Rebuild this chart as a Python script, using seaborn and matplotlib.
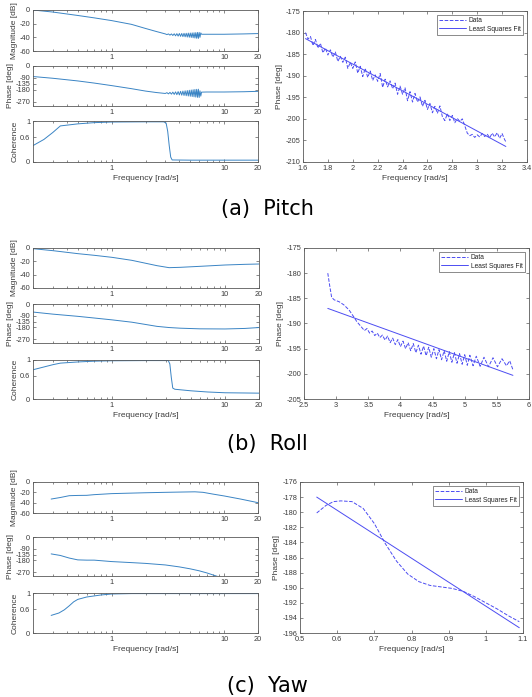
import numpy as np
import pandas as pd
import matplotlib
matplotlib.use("Agg")
import matplotlib.pyplot as plt
import seaborn as sns
from matplotlib.ticker import LogLocator, NullFormatter, FixedLocator, FixedFormatter

sns.set_style("ticks")
plt.rcParams['font.family'] = ['Liberation Sans', 'DejaVu Sans']

# ---------------- Pitch ----------------
pitch_mag_f = [0.2, 0.3, 0.5, 0.7, 1.0, 1.5, 2.0, 2.5, 3.0,
               3.1, 3.2, 3.3, 3.4, 3.5, 3.6, 3.7, 3.8, 3.9, 4.0, 4.1, 4.2, 4.3, 4.4, 4.5,
               4.6, 4.7, 4.8, 4.9, 5.0, 5.1, 5.2, 5.3, 5.4, 5.5, 5.6, 5.7, 5.8, 5.9, 6.0,
               6.1, 6.2, 6.3, 7.0, 10.0, 15.0, 20.0]
pitch_mag = [0.0, -3.0, -8.0, -11.5, -15.5, -21.0, -27.0, -31.5, -35.0,
             -36.0, -35.0, -36.8, -35.0, -37.3, -34.8, -37.8, -34.6, -38.2, -34.4, -38.6, -34.3, -39.0, -34.1, -39.3,
             -34.0, -39.6, -33.8, -39.9, -33.7, -40.2, -33.5, -40.6, -33.3, -41.0, -33.1, -41.4, -32.9, -41.6, -32.8,
             -40.0, -33.5, -35.5, -35.5, -35.5, -35.0, -34.5]
pitch_ph = [-79, -92, -112, -128, -147, -170, -188, -199, -206,
            -200, -209, -198, -211, -196, -213, -194, -215, -192, -217, -190, -219, -188, -221, -186,
            -223, -184, -225, -182, -227, -180, -229, -178, -231, -176, -233, -175, -235, -174, -236,
            -186, -226, -196, -195, -195, -193, -190]
pitch_coh_f = [0.2, 0.25, 0.3, 0.35, 0.5, 0.7, 1.0, 2.0, 2.9, 3.05, 3.15, 3.25, 3.35, 3.45, 5.0, 10.0, 20.0]
pitch_coh = [0.40, 0.55, 0.72, 0.88, 0.93, 0.96, 0.975, 0.98, 0.98, 0.95, 0.75, 0.40, 0.12, 0.05, 0.045, 0.045, 0.045]

pitch_fit_data_f = [1.62, 1.64, 1.66, 1.68, 1.70, 1.72, 1.74, 1.76, 1.78, 1.80, 1.82, 1.84, 1.86, 1.88,
                    1.90, 1.92, 1.94, 1.96, 1.98, 2.00, 2.02, 2.04, 2.06, 2.08, 2.10, 2.12, 2.14, 2.16,
                    2.18, 2.20, 2.22, 2.24, 2.26, 2.28, 2.30, 2.32, 2.34, 2.36, 2.38, 2.40, 2.42, 2.44,
                    2.46, 2.48, 2.50, 2.52, 2.54, 2.56, 2.58, 2.60, 2.62, 2.64, 2.66, 2.68, 2.70, 2.72,
                    2.74, 2.76, 2.78, 2.80, 2.82, 2.84, 2.86, 2.88, 2.90, 2.92, 2.94, 2.96, 2.98, 3.00,
                    3.02, 3.04, 3.06, 3.08, 3.10, 3.12, 3.14, 3.16, 3.18, 3.20, 3.22, 3.23]
pitch_fit_data = [-180.0, -181.5, -180.9, -183.0, -181.6, -183.6, -182.5, -184.7, -183.6, -185.2, -184.0,
                  -185.7, -184.5, -186.7, -185.5, -186.9, -185.7, -188.3, -186.9, -188.3, -186.8, -189.4,
                  -187.8, -190.2, -188.3, -190.4, -188.9, -191.1, -189.8, -191.3, -189.5, -192.7, -190.8,
                  -192.6, -191.2, -193.0, -191.7, -194.3, -192.4, -194.3, -192.8, -195.8, -193.7, -196.1,
                  -194.1, -196.1, -194.9, -197.1, -195.7, -197.8, -196.4, -198.6, -197.1, -198.7, -197.0,
                  -199.5, -200.4, -198.8, -200.4, -199.2, -200.9, -199.9, -200.6, -200.0, -201.6, -203.3,
                  -203.9, -203.6, -204.3, -203.7, -204.2, -203.4, -204.1, -203.5, -204.4, -203.3, -204.2,
                  -203.2, -204.5, -203.4, -204.8, -205.3]
pitch_ls_f = [1.62, 3.23]
pitch_ls = [-181.4, -206.4]

# ---------------- Roll ----------------
roll_f = [0.2, 0.3, 0.5, 0.7, 1.0, 1.5, 2.0, 2.5, 3.2, 4.0, 6.0, 10.0, 15.0, 20.0]
roll_mag = [-1.0, -4.0, -8.5, -11.0, -14.0, -18.5, -23.0, -26.5, -29.5, -29.0, -27.5, -25.5, -24.5, -24.0]
roll_ph = [-62, -78, -95, -108, -122, -140, -158, -172, -181, -186, -191, -192, -188, -181]
roll_coh_f = [0.2, 0.3, 0.35, 0.5, 0.7, 1.0, 2.0, 3.15, 3.25, 3.35, 3.45, 3.6, 5.0, 7.0, 10.0, 20.0]
roll_coh = [0.75, 0.88, 0.92, 0.95, 0.97, 0.98, 0.985, 0.985, 0.9, 0.55, 0.28, 0.25, 0.21, 0.18, 0.16, 0.15]

roll_data_f = [2.87, 2.90, 2.93, 2.97, 3.05, 3.12, 3.20, 3.27, 3.32, 3.36,
               3.40, 3.44, 3.48, 3.52, 3.56, 3.60, 3.64, 3.68, 3.72, 3.76, 3.80, 3.84, 3.88, 3.92,
               3.96, 4.00, 4.04, 4.08, 4.12, 4.16, 4.20, 4.24, 4.28, 4.32, 4.36, 4.40, 4.44, 4.48,
               4.52, 4.56, 4.60, 4.64, 4.68, 4.72, 4.76, 4.80, 4.84, 4.88, 4.92, 4.96, 5.00, 5.04,
               5.08, 5.13, 5.18, 5.24, 5.30, 5.37, 5.44, 5.51, 5.58, 5.65, 5.70, 5.75]
roll_data = [-180.0, -182.5, -184.8, -185.3, -185.7, -186.3, -187.3, -188.6, -189.6, -190.2,
             -190.8, -191.4, -191.0, -191.9, -191.5, -192.4, -191.9, -192.8, -192.3, -193.3, -192.5,
             -193.8, -192.9, -194.2, -193.2, -194.6, -193.5, -195.0, -193.8, -195.4, -194.0, -195.8,
             -194.3, -196.1, -194.5, -196.4, -194.7, -196.7, -195.0, -197.0, -195.2, -197.2, -195.4,
             -197.5, -195.6, -197.7, -195.8, -197.9, -196.0, -198.1, -196.2, -198.3, -196.3, -198.4,
             -196.5, -198.5, -196.7, -198.6, -196.8, -198.6, -197.0, -198.4, -197.4, -199.2]
roll_ls_f = [2.87, 5.75]
roll_ls = [-187.0, -200.3]

# ---------------- Yaw ----------------
yaw_f = [0.29, 0.35, 0.42, 0.5, 0.6, 0.7, 1.0, 1.5, 2.0, 3.0, 4.0, 5.5, 6.5, 8.0, 10.0, 14.0, 20.0]
yaw_mag = [-33.0, -30.0, -26.5, -26.0, -25.8, -24.5, -22.5, -21.5, -20.8, -20.0, -19.5, -19.0, -20.0,
           -23.5, -27.0, -33.0, -40.0]
yaw_ph_f = [0.29, 0.35, 0.42, 0.5, 0.6, 0.7, 1.0, 1.5, 2.0, 3.0, 4.0, 5.0, 6.0, 7.0, 8.5, 10.0, 20.0]
yaw_ph = [-130, -142, -162, -176, -178, -178, -189, -197, -203, -215, -230, -245, -260, -276, -300, -320, -400]
yaw_coh_f = [0.29, 0.34, 0.38, 0.42, 0.46, 0.5, 0.6, 0.8, 1.0, 1.5, 2.0, 20.0]
yaw_coh = [0.44, 0.50, 0.58, 0.68, 0.78, 0.84, 0.90, 0.95, 0.975, 0.985, 0.985, 0.985]

yaw_data_f = [0.545, 0.57, 0.59, 0.61, 0.64, 0.67, 0.70, 0.73, 0.76, 0.79, 0.82, 0.85, 0.88, 0.91,
              0.94, 0.97, 1.00, 1.03, 1.06, 1.09]
yaw_data = [-180.1, -179.1, -178.6, -178.5, -178.6, -179.5, -181.5, -184.2, -186.5, -188.2, -189.2,
            -189.7, -189.9, -190.1, -190.5, -191.2, -192.0, -192.8, -193.7, -194.5]
yaw_ls_f = [0.545, 1.09]
yaw_ls = [-178.0, -195.3]

captions = ["(a)  Pitch", "(b)  Roll", "(c)  Yaw"]

# ---------------- drawing ----------------
W, H = 532, 697
fig = plt.figure(figsize=(W / 100, H / 100), dpi=100)

LEFT_C = '#3a84c4'
RIGHT_C = '#4c4cf2'
SPINE_C = '#5a5a5a'
TICK_C = '#3c3c3c'
TFS = 5.3
LFS = 6


def add_ax(x0, y0, x1, y1):
    return fig.add_axes([x0 / W, 1 - y1 / H, (x1 - x0) / W, (y1 - y0) / H])


def style(ax):
    for s in ax.spines.values():
        s.set_color(SPINE_C)
        s.set_linewidth(0.6)
        s.set_visible(True)
    ax.tick_params(which='both', direction='in', top=True, right=True, colors=SPINE_C,
                   labelcolor=TICK_C, labelsize=TFS, width=0.5, pad=2)
    ax.tick_params(which='major', length=2.5)
    ax.tick_params(which='minor', length=1.5)


def left_panel(ax, f, y, yticks, ylim, ylabel, xlabel=False):
    sns.lineplot(x=f, y=y, ax=ax, color=LEFT_C, linewidth=0.7, sort=False)
    ax.set_xscale('log')
    ax.set_xlim(0.2, 20)
    ax.set_ylim(*ylim)
    ax.set_yticks(yticks)
    ax.set_yticklabels([("%g" % t) for t in yticks])
    ax.xaxis.set_major_locator(FixedLocator([1, 10, 20]))
    ax.xaxis.set_major_formatter(FixedFormatter(["1", "10", "20"]))
    ax.xaxis.set_minor_locator(LogLocator(base=10, subs=np.arange(2, 10)))
    ax.xaxis.set_minor_formatter(NullFormatter())
    ax.set_ylabel(ylabel, fontsize=LFS, color=TICK_C, labelpad=1)
    ax.set_xlabel("Frequency [rad/s]" if xlabel else "", fontsize=LFS, color=TICK_C, labelpad=2)
    style(ax)


def right_panel(ax, df_, dv, lf, lv, xlim, xticks, ylim, yticks):
    sns.lineplot(x=df_, y=dv, ax=ax, color=RIGHT_C, linewidth=0.7, linestyle='--',
                 label='Data', sort=False)
    sns.lineplot(x=lf, y=lv, ax=ax, color=RIGHT_C, linewidth=0.7, label='Least Squares Fit', sort=False)
    ax.set_xlim(*xlim)
    ax.set_ylim(*ylim)
    ax.set_xticks(xticks)
    ax.set_xticklabels([("%g" % t) for t in xticks])
    ax.set_yticks(yticks)
    ax.set_yticklabels([("%g" % t) for t in yticks])
    ax.set_xlabel("Frequency [rad/s]", fontsize=LFS, color=TICK_C, labelpad=2)
    ax.set_ylabel("Phase [deg]", fontsize=LFS, color=TICK_C, labelpad=2)
    style(ax)
    leg = ax.legend(loc='upper right', fontsize=4.8, frameon=True, fancybox=False,
                    handlelength=4.0, borderpad=0.35, labelspacing=0.2, handletextpad=0.4,
                    borderaxespad=0.6)
    leg.get_frame().set_edgecolor('#333333')
    leg.get_frame().set_linewidth(0.5)
    for t in leg.get_texts():
        t.set_color('#222222')


mag_t = [-60, -40, -20, 0]
ph_t = [-270, -180, -135, -90, 0]
coh_t = [0, 0.6, 1]

# Pitch
left_panel(add_ax(33, 10, 258, 51), pitch_mag_f, pitch_mag, mag_t, (-60, 0), "Magnitude [dB]")
left_panel(add_ax(33, 66, 258, 106), pitch_mag_f, pitch_ph, ph_t, (-300, 0), "Phase [deg]")
left_panel(add_ax(33, 121, 258, 162), pitch_coh_f, pitch_coh, coh_t, (0, 1), "Coherence", True)
right_panel(add_ax(303, 11, 527, 162), pitch_fit_data_f, pitch_fit_data, pitch_ls_f, pitch_ls,
            (1.6, 3.4), [1.6, 1.8, 2.0, 2.2, 2.4, 2.6, 2.8, 3.0, 3.2, 3.4], (-210, -175),
            [-210, -205, -200, -195, -190, -185, -180, -175])

# Roll
left_panel(add_ax(33, 248, 259, 288), roll_f, roll_mag, mag_t, (-60, 0), "Magnitude [dB]")
left_panel(add_ax(33, 304, 259, 343), roll_f, roll_ph, ph_t, (-300, 0), "Phase [deg]")
left_panel(add_ax(33, 360, 259, 399), roll_coh_f, roll_coh, coh_t, (0, 1), "Coherence", True)
right_panel(add_ax(304, 248, 529, 399), roll_data_f, roll_data, roll_ls_f, roll_ls,
            (2.5, 6), [2.5, 3, 3.5, 4, 4.5, 5, 5.5, 6], (-205, -175),
            [-205, -200, -195, -190, -185, -180, -175])

# Yaw
left_panel(add_ax(33, 482, 258, 513), yaw_f, yaw_mag, mag_t, (-60, 0), "Magnitude [dB]")
left_panel(add_ax(33, 537, 258, 576), yaw_ph_f, yaw_ph, ph_t, (-300, 0), "Phase [deg]")
left_panel(add_ax(33, 593, 258, 633), yaw_coh_f, yaw_coh, coh_t, (0, 1), "Coherence", True)
right_panel(add_ax(300, 482, 523, 633), yaw_data_f, yaw_data, yaw_ls_f, yaw_ls,
            (0.5, 1.1), [0.5, 0.6, 0.7, 0.8, 0.9, 1.0, 1.1], (-196, -176),
            list(range(-196, -175, 2)))

for cap, yc in zip(captions, [209, 444, 686]):
    fig.text(267 / W, 1 - yc / H, cap, ha='center', va='center', fontsize=15,
             family=['DejaVu Sans'], color='black')

fig.savefig("out.png", dpi=100)
